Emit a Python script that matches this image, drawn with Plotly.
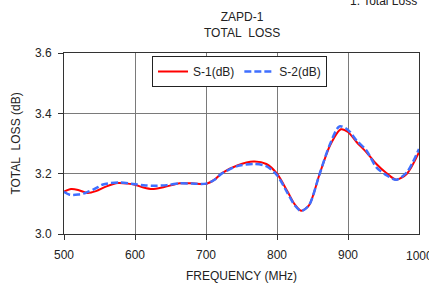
import plotly.graph_objects as go

freq_s1 = [500, 510, 520, 533, 545, 560, 576, 590, 600, 612, 624, 640, 663, 680, 700, 712, 722, 744, 767, 785,
           800, 815, 825, 834, 845, 860, 875, 890, 900, 912, 926, 940, 954, 968, 983, 1000]
loss_s1 = [3.141, 3.149, 3.146, 3.136, 3.142, 3.158, 3.169, 3.167, 3.163, 3.154, 3.149, 3.155, 3.168, 3.168, 3.166,
           3.180, 3.201, 3.227, 3.240, 3.232, 3.200, 3.140, 3.098, 3.077, 3.095, 3.199, 3.295, 3.347, 3.338, 3.305,
           3.271, 3.232, 3.202, 3.180, 3.200, 3.271]

freq_s2 = [500, 508, 520, 530, 545, 555, 579, 600, 615, 630, 645, 663, 680, 700, 712, 722, 744, 767, 785,
           800, 815, 825, 834, 845, 860, 875, 888, 900, 912, 926, 940, 954, 968, 983, 1000]
loss_s2 = [3.140, 3.130, 3.131, 3.136, 3.152, 3.164, 3.171, 3.165, 3.161, 3.160, 3.162, 3.168, 3.167, 3.167,
           3.180, 3.200, 3.225, 3.232, 3.225, 3.195, 3.135, 3.095, 3.076, 3.095, 3.199, 3.300, 3.357, 3.345, 3.310,
           3.277, 3.221, 3.195, 3.180, 3.205, 3.282]

x_ticks = [500, 600, 700, 800, 900, 1000]
x_tick_labels = ["500", "600", "700", "800", "900", "1000"]
y_ticks = [3.0, 3.2, 3.4, 3.6]
y_tick_labels = ["3.0", "3.2", "3.4", "3.6"]

FONT = "Liberation Sans, Arial, sans-serif"
L, R, T, B = 64, 10, 53, 53
PW, PH = 429 - L - R, 287 - T - B

fig = go.Figure()
fig.add_trace(go.Scatter(x=freq_s1, y=loss_s1, mode="lines", name="S-1(dB)",
                         line=dict(color="#FF0000", width=2, shape="spline", smoothing=0.8)))
fig.add_trace(go.Scatter(x=freq_s2, y=loss_s2, mode="lines", name="S-2(dB)",
                         line=dict(color="#3F6FFF", width=2.5, dash="7px,3px", shape="spline", smoothing=0.8)))

fig.update_layout(
    width=429, height=287,
    margin=dict(l=L, r=R, t=T, b=B, autoexpand=False),
    paper_bgcolor="white", plot_bgcolor="white",
    font=dict(family=FONT, size=12, color="#222"),
    showlegend=True,
    legend=dict(orientation="h", x=(152 - L) / PW, y=(234 - 56) / PH, xanchor="left", yanchor="top",
                bgcolor="white", bordercolor="#222", borderwidth=1,
                font=dict(size=12, color="#222")),
    xaxis=dict(range=[500, 1000], tickvals=x_ticks[:-1], ticktext=x_tick_labels[:-1],
               showgrid=True, gridcolor="#7a7a7a", gridwidth=1,
               showline=True, linecolor="#333", linewidth=1, mirror=True,
               ticks="outside", ticklen=5, tickcolor="#333", automargin=False,
               ticklabelstandoff=5,
               title=dict(text="FREQUENCY (MHz)", standoff=10, font=dict(size=12)),
               tickfont=dict(size=12), zeroline=False),
    yaxis=dict(range=[3.0, 3.6], tickvals=y_ticks, ticktext=y_tick_labels,
               showgrid=True, gridcolor="#7a7a7a", gridwidth=1,
               showline=True, linecolor="#333", linewidth=1, mirror=True,
               ticks="outside", ticklen=5, tickcolor="#333", automargin=False,
               ticklabelstandoff=4,
               title=dict(text="TOTAL\u00a0\u00a0LOSS (dB)", standoff=11, font=dict(size=12)),
               tickfont=dict(size=12), zeroline=False),
)

# last x tick label (partly cut off at the right edge in the reference)
fig.add_annotation(text=x_tick_labels[-1], x=x_ticks[-1], xref="x", y=0, yref="paper",
                   yshift=-13, xanchor="center", yanchor="top", showarrow=False,
                   font=dict(size=12, color="#222"))
fig.add_annotation(text="ZAPD-1<br>TOTAL\u00a0\u00a0LOSS", xref="paper", yref="paper",
                   x=0.5, y=1.0, yshift=11, xanchor="center", yanchor="bottom", showarrow=False,
                   font=dict(size=12, color="#222"))
fig.add_annotation(text="1. Total Loss", xref="paper", yref="paper",
                   x=(348 - L) / PW, y=(234 - 1) / PH, xanchor="left", yanchor="middle",
                   showarrow=False, font=dict(size=12, color="#222"))

fig.write_html("out.html", config={"displayModeBar": False},
               post_script="document.body.style.margin='0';")
